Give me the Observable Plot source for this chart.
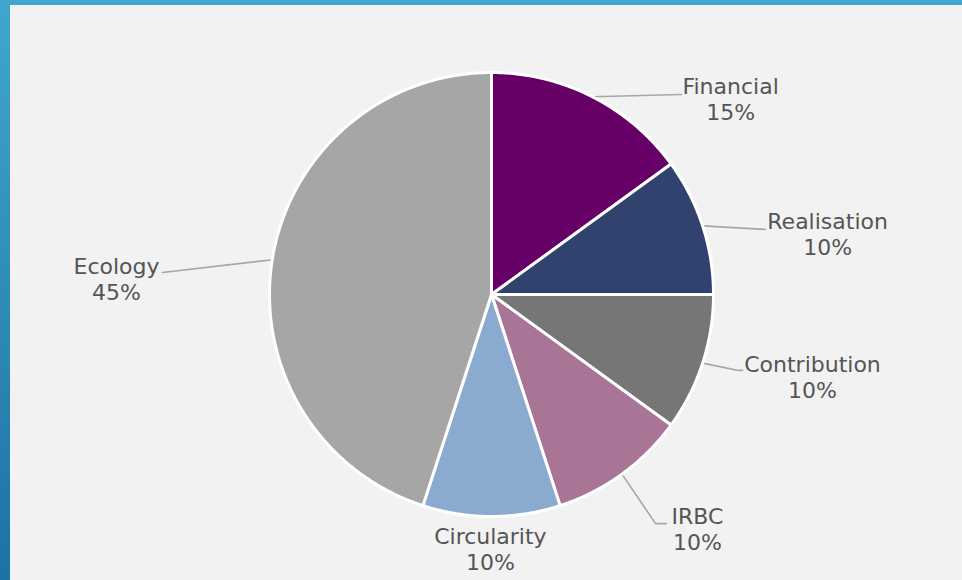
<!DOCTYPE html>
<html>
<head>
<meta charset="utf-8">
<script src="https://cdn.jsdelivr.net/npm/d3@7"></script>
<script src="https://cdn.jsdelivr.net/npm/@observablehq/plot@0.6"></script>
<style>
  html, body { margin: 0; padding: 0; }
  body {
    width: 962px; height: 580px; overflow: hidden;
    background: linear-gradient(to bottom, #41a6cf, #1c72a5);
  }
  #frame { padding: 5px 0 0 10px; }
  #frame svg { display: block; }
</style>
</head>
<body>
<div id="frame"></div>
<script>
// ---- data ----
const categories = ["Financial", "Realisation", "Contribution", "IRBC", "Circularity", "Ecology"];
const values = [15, 10, 10, 10, 10, 45];

// ---- styles ----
const colors = ["#660066", "#31426f", "#767676", "#a87597", "#8aabcf", "#a6a6a6"];

// ---- label layout (in pie-radius units, y up) ----
const labelPos = [[1.077, 0.883], [1.514, 0.275], [1.446, -0.369], [0.928, -1.054], [-0.005, -1.144], [-1.689, 0.072]];
const leaderPath = [
  [[0.856, 0.901]],
  [[1.234, 0.293]],
  [[1.113, -0.342], [1.131, -0.342]],
  [[0.739, -1.032], [0.788, -1.032]],
  [],
  [[-1.482, 0.099]]
];

// ---- geometry from data ----
const W = 952, H = 575, R = 222, cx = 481, cy = 289;
const total = d3.sum(values);
let acc = 0;
const slices = categories.map((c, i) => {
  const a0 = acc / total * 2 * Math.PI;
  acc += values[i];
  const a1 = acc / total * 2 * Math.PI;
  return {c, v: values[i], a0, a1, i};
});

const polyPts = slices.flatMap(s => {
  const n = Math.max(2, Math.ceil((s.a1 - s.a0) / (Math.PI / 360)));
  const pts = [{c: s.c, x: 0, y: 0}];
  for (let k = 0; k <= n; k++) {
    const a = s.a0 + (s.a1 - s.a0) * k / n;
    pts.push({c: s.c, x: Math.sin(a), y: Math.cos(a)});
  }
  pts.push({c: s.c, x: 0, y: 0});
  return pts;
});

const leaderPts = slices.flatMap(s => {
  if (!leaderPath[s.i].length) return [];
  const am = (s.a0 + s.a1) / 2;
  return [{c: s.c, x: Math.sin(am), y: Math.cos(am)},
          ...leaderPath[s.i].map(([x, y]) => ({c: s.c, x, y}))];
});

const labels = slices.map(s => ({
  x: labelPos[s.i][0], y: labelPos[s.i][1],
  text: `${s.c}\n${Math.round(s.v / total * 100)}%`
}));

const chart = Plot.plot({
  width: W, height: H, margin: 0,
  x: {domain: [-cx / R, (W - cx) / R], axis: null},
  y: {domain: [-(H - cy) / R, cy / R], axis: null},
  color: {domain: categories, range: colors},
  style: {background: "#f2f2f2", fontFamily: "DejaVu Sans, Verdana, sans-serif"},
  marks: [
    Plot.line(leaderPts, {x: "x", y: "y", z: "c", stroke: "#a6a6a6", strokeWidth: 1.6}),
    Plot.line(polyPts, {x: "x", y: "y", z: "c", fill: "c", stroke: "white", strokeWidth: 3, strokeLinejoin: "round"}),
    Plot.text(labels, {x: "x", y: "y", text: "text", fontSize: 22, lineHeight: 1.18, fill: "#555555"})
  ]
});
document.getElementById("frame").append(chart);
</script>
</body>
</html>
